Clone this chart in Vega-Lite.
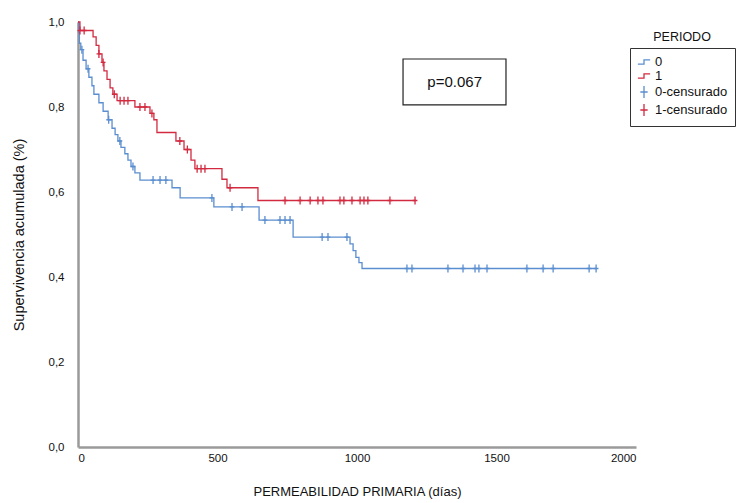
{
  "$schema": "https://vega.github.io/schema/vega-lite/v6.json",
  "width": 558,
  "height": 425,
  "autosize": "none",
  "padding": {"left": 78, "top": 22, "right": 109, "bottom": 56},
  "background": "white",
  "config": {
    "view": {"stroke": null},
    "font": "Liberation Sans",
    "axis": {"domainColor": "#9a9a9a", "domainWidth": 2.5, "ticks": false, "grid": false, "labelColor": "#111", "titleColor": "#111", "labelFontSize": 11.5, "titleFontWeight": "normal"},
    "legend": {"labelFontSize": 13, "titleFontSize": 12.5, "titleFontWeight": "normal", "titleColor": "#111", "labelColor": "#111"}
  },
  "datasets": {
    "curvas": [
      {"serie": "0", "dias": 0, "surv": 1.0},
      {"serie": "0", "dias": 2, "surv": 0.975},
      {"serie": "0", "dias": 5, "surv": 0.95},
      {"serie": "0", "dias": 10, "surv": 0.935},
      {"serie": "0", "dias": 18, "surv": 0.91},
      {"serie": "0", "dias": 29, "surv": 0.89},
      {"serie": "0", "dias": 39, "surv": 0.87},
      {"serie": "0", "dias": 50, "surv": 0.85},
      {"serie": "0", "dias": 57, "surv": 0.83},
      {"serie": "0", "dias": 75, "surv": 0.81},
      {"serie": "0", "dias": 90, "surv": 0.79},
      {"serie": "0", "dias": 108, "surv": 0.77},
      {"serie": "0", "dias": 122, "surv": 0.75},
      {"serie": "0", "dias": 133, "surv": 0.735},
      {"serie": "0", "dias": 143, "surv": 0.72},
      {"serie": "0", "dias": 154, "surv": 0.705},
      {"serie": "0", "dias": 168, "surv": 0.69},
      {"serie": "0", "dias": 179, "surv": 0.675},
      {"serie": "0", "dias": 190, "surv": 0.66},
      {"serie": "0", "dias": 204, "surv": 0.645},
      {"serie": "0", "dias": 222, "surv": 0.628},
      {"serie": "0", "dias": 337, "surv": 0.61},
      {"serie": "0", "dias": 366, "surv": 0.586},
      {"serie": "0", "dias": 487, "surv": 0.565},
      {"serie": "0", "dias": 649, "surv": 0.534},
      {"serie": "0", "dias": 771, "surv": 0.494},
      {"serie": "0", "dias": 975, "surv": 0.478},
      {"serie": "0", "dias": 986, "surv": 0.462},
      {"serie": "0", "dias": 996, "surv": 0.446},
      {"serie": "0", "dias": 1007, "surv": 0.434},
      {"serie": "0", "dias": 1018, "surv": 0.42},
      {"serie": "0", "dias": 1860, "surv": 0.42},
      {"serie": "1", "dias": 0, "surv": 1.0},
      {"serie": "1", "dias": 7, "surv": 0.98},
      {"serie": "1", "dias": 54, "surv": 0.965},
      {"serie": "1", "dias": 65, "surv": 0.945},
      {"serie": "1", "dias": 75, "surv": 0.925},
      {"serie": "1", "dias": 86, "surv": 0.905},
      {"serie": "1", "dias": 93, "surv": 0.885},
      {"serie": "1", "dias": 104, "surv": 0.865},
      {"serie": "1", "dias": 115, "surv": 0.845},
      {"serie": "1", "dias": 125, "surv": 0.83},
      {"serie": "1", "dias": 140, "surv": 0.815},
      {"serie": "1", "dias": 204, "surv": 0.8},
      {"serie": "1", "dias": 258, "surv": 0.785},
      {"serie": "1", "dias": 272, "surv": 0.77},
      {"serie": "1", "dias": 283, "surv": 0.74},
      {"serie": "1", "dias": 351, "surv": 0.72},
      {"serie": "1", "dias": 380, "surv": 0.7},
      {"serie": "1", "dias": 405, "surv": 0.675},
      {"serie": "1", "dias": 419, "surv": 0.655},
      {"serie": "1", "dias": 516, "surv": 0.63},
      {"serie": "1", "dias": 534, "surv": 0.61},
      {"serie": "1", "dias": 645, "surv": 0.58},
      {"serie": "1", "dias": 1210, "surv": 0.58}
    ],
    "censurados": [
      {"serie": "0-censurado", "dias": 14, "surv": 0.935},
      {"serie": "0-censurado", "dias": 36, "surv": 0.89},
      {"serie": "0-censurado", "dias": 110, "surv": 0.77},
      {"serie": "0-censurado", "dias": 150, "surv": 0.72},
      {"serie": "0-censurado", "dias": 197, "surv": 0.66},
      {"serie": "0-censurado", "dias": 269, "surv": 0.628},
      {"serie": "0-censurado", "dias": 294, "surv": 0.628},
      {"serie": "0-censurado", "dias": 315, "surv": 0.628},
      {"serie": "0-censurado", "dias": 480, "surv": 0.586},
      {"serie": "0-censurado", "dias": 552, "surv": 0.565},
      {"serie": "0-censurado", "dias": 588, "surv": 0.565},
      {"serie": "0-censurado", "dias": 670, "surv": 0.534},
      {"serie": "0-censurado", "dias": 724, "surv": 0.534},
      {"serie": "0-censurado", "dias": 742, "surv": 0.534},
      {"serie": "0-censurado", "dias": 760, "surv": 0.534},
      {"serie": "0-censurado", "dias": 875, "surv": 0.494},
      {"serie": "0-censurado", "dias": 896, "surv": 0.494},
      {"serie": "0-censurado", "dias": 964, "surv": 0.494},
      {"serie": "0-censurado", "dias": 1179, "surv": 0.42},
      {"serie": "0-censurado", "dias": 1197, "surv": 0.42},
      {"serie": "0-censurado", "dias": 1326, "surv": 0.42},
      {"serie": "0-censurado", "dias": 1380, "surv": 0.42},
      {"serie": "0-censurado", "dias": 1423, "surv": 0.42},
      {"serie": "0-censurado", "dias": 1437, "surv": 0.42},
      {"serie": "0-censurado", "dias": 1466, "surv": 0.42},
      {"serie": "0-censurado", "dias": 1609, "surv": 0.42},
      {"serie": "0-censurado", "dias": 1667, "surv": 0.42},
      {"serie": "0-censurado", "dias": 1703, "surv": 0.42},
      {"serie": "0-censurado", "dias": 1832, "surv": 0.42},
      {"serie": "0-censurado", "dias": 1857, "surv": 0.42},
      {"serie": "1-censurado", "dias": 7, "surv": 0.98},
      {"serie": "1-censurado", "dias": 22, "surv": 0.98},
      {"serie": "1-censurado", "dias": 75, "surv": 0.925},
      {"serie": "1-censurado", "dias": 90, "surv": 0.905},
      {"serie": "1-censurado", "dias": 130, "surv": 0.83},
      {"serie": "1-censurado", "dias": 151, "surv": 0.815},
      {"serie": "1-censurado", "dias": 165, "surv": 0.815},
      {"serie": "1-censurado", "dias": 179, "surv": 0.815},
      {"serie": "1-censurado", "dias": 222, "surv": 0.8},
      {"serie": "1-censurado", "dias": 240, "surv": 0.8},
      {"serie": "1-censurado", "dias": 265, "surv": 0.785},
      {"serie": "1-censurado", "dias": 365, "surv": 0.72},
      {"serie": "1-censurado", "dias": 392, "surv": 0.7},
      {"serie": "1-censurado", "dias": 427, "surv": 0.655},
      {"serie": "1-censurado", "dias": 441, "surv": 0.655},
      {"serie": "1-censurado", "dias": 455, "surv": 0.655},
      {"serie": "1-censurado", "dias": 545, "surv": 0.61},
      {"serie": "1-censurado", "dias": 742, "surv": 0.58},
      {"serie": "1-censurado", "dias": 796, "surv": 0.58},
      {"serie": "1-censurado", "dias": 832, "surv": 0.58},
      {"serie": "1-censurado", "dias": 860, "surv": 0.58},
      {"serie": "1-censurado", "dias": 878, "surv": 0.58},
      {"serie": "1-censurado", "dias": 939, "surv": 0.58},
      {"serie": "1-censurado", "dias": 953, "surv": 0.58},
      {"serie": "1-censurado", "dias": 982, "surv": 0.58},
      {"serie": "1-censurado", "dias": 1011, "surv": 0.58},
      {"serie": "1-censurado", "dias": 1025, "surv": 0.58},
      {"serie": "1-censurado", "dias": 1039, "surv": 0.58},
      {"serie": "1-censurado", "dias": 1118, "surv": 0.58},
      {"serie": "1-censurado", "dias": 1208, "surv": 0.58}
    ],
    "anotacion": [{"texto": "p=0.067", "leyenda": "PERIODO"}]
  },
  "layer": [
    {
      "data": {"name": "curvas"},
      "mark": {"type": "line", "interpolate": "step-after", "strokeWidth": 1.3},
      "encoding": {
        "x": {"field": "dias", "type": "quantitative", "scale": {"domain": [0, 2000], "nice": false},
          "axis": {"values": [0, 500, 1000, 1500, 2000], "format": "d", "title": "PERMEABILIDAD PRIMARIA (días)", "titleFontSize": 13, "labelPadding": 5, "titlePadding": 22}},
        "y": {"field": "surv", "type": "quantitative", "scale": {"domain": [0, 1], "nice": false},
          "axis": {"values": [0, 0.2, 0.4, 0.6, 0.8, 1], "labelExpr": "replace(format(datum.value, '.1f'), '.', ',')", "title": "Supervivencia acumulada (%)", "titleFontSize": 14.5, "labelPadding": 14, "titlePadding": 22}},
        "color": {"field": "serie", "type": "nominal",
          "scale": {"domain": ["0", "1", "0-censurado", "1-censurado"], "range": ["#5b8ed0", "#d22b40", "#5b8ed0", "#d22b40"]},
          "legend": {"title": null, "orient": "none", "legendX": 552, "legendY": 26, "strokeColor": "#333", "padding": 7, "symbolSize": 150, "symbolStrokeWidth": 1.3, "labelOffset": 4, "rowPadding": 0,
            "encode": {"symbols": {"update": {"shape": {"signal": "indexof(datum.value, 'censurado') >= 0 ? 'M-1,0H1M0,-0.6V0.6' : 'M-1,0.35H0V-0.35H1'"}}}}}},
        "detail": {"field": "serie"}
      }
    },
    {
      "data": {"name": "censurados"},
      "mark": {"type": "point", "filled": false, "strokeWidth": 1.3, "size": 64, "opacity": 1},
      "encoding": {
        "x": {"field": "dias", "type": "quantitative"},
        "y": {"field": "surv", "type": "quantitative"},
        "color": {"field": "serie", "type": "nominal"},
        "shape": {"field": "serie", "type": "nominal",
          "scale": {"domain": ["0", "1", "0-censurado", "1-censurado"], "range": ["M-1,0.35H0V-0.35H1", "M-1,0.35H0V-0.35H1", "M-0.6,0H0.6M0,-1V1", "M-0.6,0H0.6M0,-1V1"]},
          "legend": {"title": null}}
      }
    },
    {
      "data": {"name": "anotacion"},
      "mark": {"type": "rect", "fill": "white", "stroke": "#222", "strokeWidth": 1.2},
      "encoding": {
        "x": {"datum": 1165, "type": "quantitative"},
        "x2": {"datum": 1534},
        "y": {"datum": 0.913, "type": "quantitative"},
        "y2": {"datum": 0.805}
      }
    },
    {
      "data": {"name": "anotacion"},
      "mark": {"type": "text", "fontSize": 15, "color": "#111", "align": "center", "baseline": "middle"},
      "encoding": {
        "x": {"datum": 1350, "type": "quantitative"},
        "y": {"datum": 0.86, "type": "quantitative"},
        "text": {"field": "texto"}
      }
    },
    {
      "data": {"name": "anotacion"},
      "mark": {"type": "text", "fontSize": 12.5, "color": "#111", "align": "center", "baseline": "middle"},
      "encoding": {
        "x": {"datum": 2165, "type": "quantitative"},
        "y": {"datum": 0.965, "type": "quantitative"},
        "text": {"field": "leyenda"}
      }
    }
  ]
}
